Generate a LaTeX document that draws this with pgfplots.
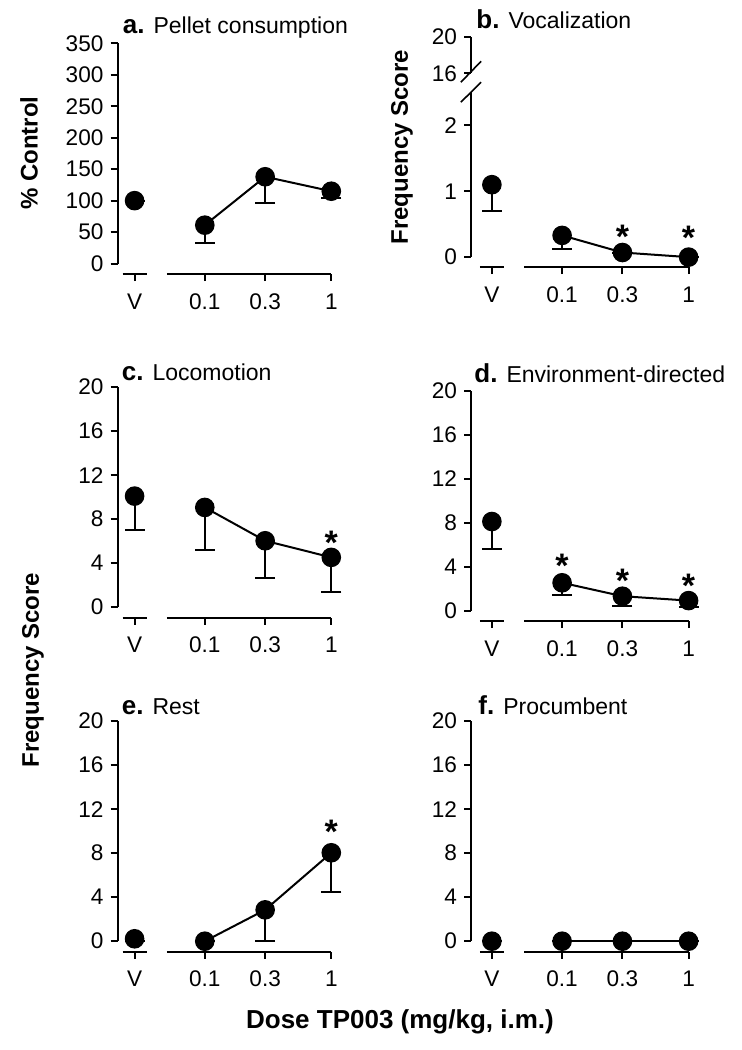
\documentclass[border=0pt]{standalone}
\usepackage{fontspec}
\setmainfont{Liberation Sans}
\usepackage{pgfplots}
\pgfplotsset{compat=1.18}

\pgfplotsset{
  panel/.style={
    scale only axis,
    height=115.25pt,
    xmax=0,
    clip=false,
    anchor=south west,
    axis lines=left,
    axis line style={draw=none},
    tick align=outside,
    major tick length=3.5pt,
    tick style={line width=1pt, black},
    xtick={-1.555,-1,-0.5229,0},
    xticklabels={V,0.1,0.3,1},
    tick label style={font=\fontsize{11.3}{13}\selectfont, black},
    xticklabel style={anchor=north, yshift=-2.5pt, text height=8pt, text depth=0pt},
    /pgf/number format/assume math mode=true,
  },
  leftcol/.style={panel, xmin=-1.69, width=106.9pt},
  rightcol/.style={panel, xmin=-1.72, width=108.8pt},
  freq/.style={ymin=-0.955, ymax=20, ytick={0,4,8,12,16,20}},
  pt/.style={black, line width=1pt, mark=*, mark size=4.6pt,
    mark options={solid, fill=black, line width=0.6pt},
    error bars/y dir=minus, error bars/y explicit,
    error bars/error mark=-,
    error bars/error bar style={line width=1pt, black},
    error bars/error mark options={rotate=90, line width=1pt, mark size=5pt, black}},
}
\tikzset{ast/.style={font=\bfseries\fontsize{17}{17}\selectfont, anchor=base, inner sep=0pt}}
\newcommand{\ttl}[2]{{\fontsize{13}{13}\selectfont\bfseries #1}\hspace{4.5pt}{\fontsize{11.5}{13}\selectfont #2}}

\begin{document}
\begin{tikzpicture}
\path[use as bounding box] (0,0) rectangle (370.5pt,-525pt);

% ---------- a. Pellet consumption
\begin{axis}[leftcol, at={(58.75pt,-137pt)}, ymin=-16.7, ymax=350, ytick={0,50,100,150,200,250,300,350}]
\addplot[pt, only marks] coordinates {(-1.555,100) +- (0,0)};
\addplot[pt] coordinates {(-1,61) +- (0,28) (-0.5229,138) +- (0,42) (0,115) +- (0,11)};
\draw[line width=1pt] (axis cs:-1.69,0) -- (axis cs:-1.69,350);
\draw[line width=1pt] (axis cs:-1.65,-16.7) -- (axis cs:-1.46,-16.7);
\draw[line width=1pt] (axis cs:-1.3,-16.7) -- (axis cs:0,-16.7);
\node[anchor=base west, inner sep=0pt] at ([xshift=2.5pt,yshift=5pt]rel axis cs:0,1) {\ttl{a.}{Pellet consumption}};
\end{axis}

% ---------- b. Vocalization
\begin{axis}[rightcol, at={(235.5pt,-133.5pt)}, ymin=-0.15, ymax=3.35,
  ytick={0,1,2,2.79,3.35}, yticklabels={0,1,2,16,20}]
\addplot[pt, only marks] coordinates {(-1.555,1.10) +- (0,0.40)};
\addplot[pt] coordinates {(-1,0.33) +- (0,0.20) (-0.5229,0.07) +- (0,0) (0,0.0) +- (0,0)};
\draw[line width=1pt] (axis cs:-1.72,0) -- (axis cs:-1.72,2.5);
\draw[line width=1pt] (axis cs:-1.72,2.79) -- (axis cs:-1.72,3.35);
\draw[line width=0.8pt] (axis cs:-1.80,2.353) -- (axis cs:-1.64,2.656);
\draw[line width=0.8pt] (axis cs:-1.80,2.656) -- (axis cs:-1.64,2.974);
\draw[line width=1pt] (axis cs:-1.65,-0.15) -- (axis cs:-1.46,-0.15);
\draw[line width=1pt] (axis cs:-1.3,-0.15) -- (axis cs:0,-0.15);
\node[ast] at ([yshift=-9.5pt]axis cs:-0.5229,0.42) {*};
\node[ast] at ([yshift=-9.5pt]axis cs:0,0.41) {*};
\node[anchor=base west, inner sep=0pt] at ([xshift=2.5pt,yshift=4pt]rel axis cs:0,1) {\ttl{b.}{Vocalization}};
\end{axis}

% ---------- c. Locomotion
\begin{axis}[leftcol, freq, at={(58.75pt,-308.85pt)}]
\addplot[pt, only marks] coordinates {(-1.555,10.1) +- (0,3.1)};
\addplot[pt] coordinates {(-1,9.07) +- (0,3.87) (-0.5229,6.04) +- (0,3.41) (0,4.53) +- (0,3.11)};
\draw[line width=1pt] (axis cs:-1.69,0) -- (axis cs:-1.69,20);
\draw[line width=1pt] (axis cs:-1.65,-0.955) -- (axis cs:-1.46,-0.955);
\draw[line width=1pt] (axis cs:-1.3,-0.955) -- (axis cs:0,-0.955);
\node[ast] at ([yshift=-9.5pt]axis cs:0,6.55) {*};
\node[anchor=base west, inner sep=0pt] at ([xshift=2pt,yshift=3.5pt]rel axis cs:0,1) {\ttl{c.}{Locomotion}};
\end{axis}

% ---------- d. Environment-directed
\begin{axis}[rightcol, freq, at={(235.5pt,-310.5pt)}]
\addplot[pt, only marks] coordinates {(-1.555,8.09) +- (0,2.54)};
\addplot[pt] coordinates {(-1,2.52) +- (0,1.1) (-0.5229,1.3) +- (0,0.91) (0,0.9) +- (0,0.6)};
\draw[line width=1pt] (axis cs:-1.72,0) -- (axis cs:-1.72,20);
\draw[line width=1pt] (axis cs:-1.65,-0.955) -- (axis cs:-1.46,-0.955);
\draw[line width=1pt] (axis cs:-1.3,-0.955) -- (axis cs:0,-0.955);
\node[ast] at ([yshift=-9.5pt]axis cs:-1,4.7) {*};
\node[ast] at ([yshift=-9.5pt]axis cs:-0.5229,3.33) {*};
\node[ast] at ([yshift=-9.5pt]axis cs:0,2.88) {*};
\node[anchor=base west, inner sep=0pt] at ([xshift=1.5pt,yshift=4pt]rel axis cs:0,1) {\ttl{d.}{Environment-directed}};
\end{axis}

% ---------- e. Rest
\begin{axis}[leftcol, freq, at={(58.75pt,-475.85pt)}]
\addplot[pt, only marks] coordinates {(-1.555,0.22) +- (0,0.2)};
\addplot[pt] coordinates {(-1,0) +- (0,0) (-0.5229,2.85) +- (0,2.79) (0,8.04) +- (0,3.54)};
\draw[line width=1pt] (axis cs:-1.69,0) -- (axis cs:-1.69,20);
\draw[line width=1pt] (axis cs:-1.65,-0.955) -- (axis cs:-1.46,-0.955);
\draw[line width=1pt] (axis cs:-1.3,-0.955) -- (axis cs:0,-0.955);
\node[ast] at ([yshift=-9.5pt]axis cs:0,10.58) {*};
\node[anchor=base west, inner sep=0pt] at ([xshift=2pt,yshift=3.5pt]rel axis cs:0,1) {\ttl{e.}{Rest}};
\end{axis}

% ---------- f. Procumbent
\begin{axis}[rightcol, freq, at={(235.5pt,-475.85pt)}]
\addplot[pt, only marks] coordinates {(-1.555,0) +- (0,0)};
\addplot[pt] coordinates {(-1,0) +- (0,0) (-0.5229,0) +- (0,0) (0,0) +- (0,0)};
\draw[line width=1pt] (axis cs:-1.72,0) -- (axis cs:-1.72,20);
\draw[line width=1pt] (axis cs:-1.65,-0.955) -- (axis cs:-1.46,-0.955);
\draw[line width=1pt] (axis cs:-1.3,-0.955) -- (axis cs:0,-0.955);
\node[anchor=base west, inner sep=0pt] at ([xshift=3.5pt,yshift=3.5pt]rel axis cs:0,1) {\ttl{f.}{Procumbent}};
\end{axis}

% ---------- axis labels
\node[rotate=90, font=\bfseries\fontsize{12}{14}\selectfont] at (14.5pt,-76.5pt) {\% Control};
\node[rotate=90, font=\bfseries\fontsize{12}{14}\selectfont] at (201pt,-73.5pt) {Frequency Score};
\node[rotate=90, font=\bfseries\fontsize{12}{14}\selectfont] at (16.5pt,-335pt) {Frequency Score};
\node[font=\bfseries\fontsize{13}{15}\selectfont] at (200pt,-511pt) {Dose TP003 (mg/kg, i.m.)};
\end{tikzpicture}
\end{document}
